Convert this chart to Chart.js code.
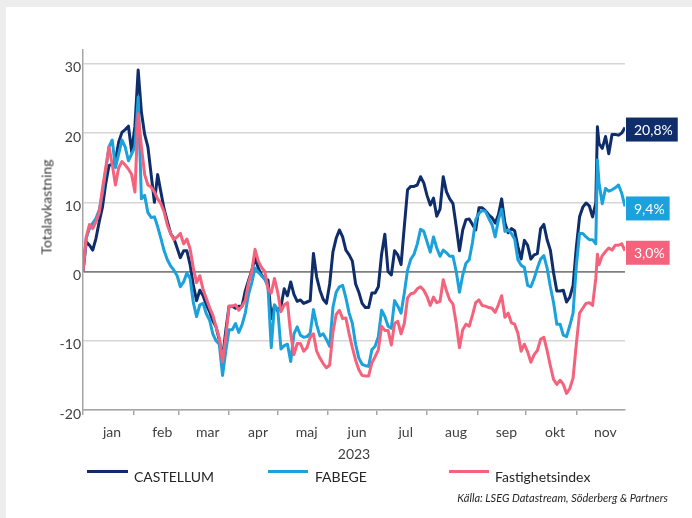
<!DOCTYPE html>
<html>
<head>
<meta charset="utf-8">
<script src="https://cdn.jsdelivr.net/npm/chart.js@4.4.0/dist/chart.umd.min.js"></script>
<style>
  html, body { margin: 0; padding: 0; }
  body { width: 692px; height: 518px; background: #eeeded; position: relative; overflow: hidden; font-family: Lato, sans-serif; }
  #card { position: absolute; left: 6px; top: 7px; right: 0; bottom: 0; background: #fff; }
  #chart { position: absolute; left: 0; top: 0; }
  #ytitle { position: absolute; left: 46px; top: 207px; transform: translate(-50%, -50%) rotate(-90deg); font-size: 14px; color: #404040; white-space: nowrap; }
  .legline { position: absolute; top: 470px; height: 3px; }
  .legtext { position: absolute; top: 469px; font-size: 14px; line-height: 16px; color: #262626; }
  #source { position: absolute; right: 24px; top: 491px; font-size: 11px; line-height: 14px; font-style: italic; color: #262626; }
</style>
</head>
<body>
<div id="card"></div>
<canvas id="chart" width="692" height="518"></canvas>
<div id="ytitle">Totalavkastning</div>
<div class="legline" style="left:87px;width:41px;background:#0f2d6b"></div>
<div class="legtext" style="left:134px">CASTELLUM</div>
<div class="legline" style="left:268px;width:40px;background:#1ba1dc"></div>
<div class="legtext" style="left:315px">FABEGE</div>
<div class="legline" style="left:449px;width:40px;background:#f5627c"></div>
<div class="legtext" style="left:495px">Fastighetsindex</div>
<div id="source">Källa: LSEG Datastream, Söderberg &amp; Partners</div>

<script>
// day of year 2023 (0 = 1 jan)
const days = [
  0, 2, 4, 6, 8, 10, 12, 14, 16, 18,
  20, 22, 24, 26, 28, 30, 32, 34, 36, 38,
  40, 42, 44, 46, 48, 50, 52, 54, 56, 58,
  60, 62, 64, 66, 68, 70, 72, 74, 76, 78,
  80, 82, 84, 86, 88, 90, 92, 94, 96, 98,
  100, 102, 104, 106, 108, 110, 112, 114, 116, 118,
  120, 122, 124, 126, 128, 130, 132, 134, 136, 138,
  140, 142, 144, 146, 148, 150, 152, 154, 156, 158,
  160, 162, 164, 166, 168, 170, 172, 174, 176, 178,
  180, 182, 184, 186, 188, 190, 192, 194, 196, 198,
  200, 202, 204, 206, 208, 210, 212, 214, 216, 218,
  220, 222, 224, 226, 228, 230, 232, 234, 236, 238,
  240, 242, 244, 246, 248, 250, 252, 254, 256, 258,
  260, 262, 264, 266, 268, 270, 272, 274, 276, 278,
  280, 282, 284, 286, 288, 290, 292, 294, 296, 298,
  300, 302, 304, 306, 308, 310, 312, 314, 316, 317, 318,
  320, 322, 324, 326, 328, 330, 332, 334
];

const castellum = [
  0, 4.3, 3.8, 3.1, 4.8, 7.2, 9.3, 12.7, 15.3, 15.5,
  16.0, 18.7, 20.1, 20.5, 21.0, 17.3, 21.0, 29.1, 23.0, 19.8,
  18.0, 14.0, 10.0, 14.0, 11.5, 9.0, 7.2, 5.5, 4.8, 3.4,
  2.0, 3.0, 3.0, 1.0, -2.0, -4.2, -2.7, -3.5, -4.8, -5.8,
  -7.1, -8.0, -9.9, -12.5, -8.5, -5.0, -5.0, -5.3, -5.0, -5.0,
  -2.8, -1.3, 0.1, 2.0, 0.5, -0.5, -1.1, -1.2, -6.8, -4.9,
  -5.7, -5.0, -2.5, -3.5, -1.5, -3.3, -4.3, -4.1, -4.6, -4.4,
  -4.2, 2.6, -0.8, -2.7, -4.0, -4.6, -1.8, 2.8, 4.8, 6.0,
  5.0, 3.1, 2.4, 1.5, -1.8, -3.0, -4.6, -5.2, -5.2, -3.1,
  -3.1, -2.2, 2.5, 5.4, 0.0, -0.5, 3.0, 2.4, 1.0, 6.5,
  11.8, 12.3, 12.3, 12.5, 13.7, 12.8, 11.0, 9.6, 10.6, 8.0,
  9.0, 13.7, 11.5, 10.5, 9.8, 6.5, 3.0, 6.0, 7.5, 7.6,
  6.8, 6.0, 9.2, 9.2, 8.8, 8.2, 7.8, 7.0, 8.2, 10.5,
  7.0, 5.6, 6.2, 5.9, 3.6, 1.8, 4.5, 3.8, 1.8, 2.4,
  2.6, 6.2, 6.8, 4.6, 3.1, -0.2, -2.8, -2.8, -2.7, -4.4,
  -3.7, -2.0, 3.5, 7.9, 9.3, 9.9, 9.5, 7.9, 9.9, 20.9, 18.5,
  17.8, 19.5, 17.0, 19.8, 19.8, 19.7, 20.0, 20.8
];

const fabege = [
  0, 4.8, 6.2, 7.0, 7.7, 8.9, 11.3, 14.6, 18.0, 19.0,
  15.0, 17.0, 19.0, 18.0, 16.0, 17.0, 18.0, 25.2, 10.5, 11.0,
  8.5, 7.8, 7.9, 6.5, 4.8, 3.0, 1.7, 0.8, 0.2, -0.6,
  -2.2, -1.5, -0.2, -1.0, -4.5, -6.5, -4.8, -4.6, -6.1, -7.0,
  -9.0, -10.0, -10.5, -15.0, -11.5, -8.4, -8.4, -7.5, -8.8, -7.7,
  -6.0, -3.3, -1.6, 0.5, -0.1, -0.6, -1.1, -2.2, -11.0, -4.8,
  -5.5, -11.2, -10.7, -10.5, -13.0, -9.0, -8.0, -9.2, -9.5, -9.4,
  -8.9, -5.5, -7.7, -9.3, -9.0, -9.8, -10.8, -5.2, -3.0, -2.2,
  -2.0, -3.8, -6.0, -7.5, -10.5, -12.5, -13.4, -13.6, -13.7, -11.3,
  -10.8, -9.4, -5.6, -6.5, -7.9, -8.2, -4.2, -5.0, -6.0, -3.1,
  0.2, 1.8, 2.5, 4.0, 6.1, 5.8, 4.3, 2.8, 5.0, 3.4,
  2.2, 3.1, 2.7, 2.2, 2.2, 0.0, -3.0, -0.5, 1.2, 1.7,
  4.2, 7.5, 8.4, 8.8, 8.7, 7.7, 6.8, 5.0, 7.5, 9.0,
  5.8, 6.0, 5.5, 4.7, 1.7, 0.9, 0.6, -2.0, -2.2, -1.0,
  0.5, 1.8, 2.3, 0.5, -2.2, -4.5, -7.6, -7.6, -9.2, -9.4,
  -7.8, -6.0, 0.8, 5.5, 5.5, 5.0, 4.6, 4.6, 4.0, 16.1, 12.8,
  9.8, 12.0, 11.6, 11.8, 12.1, 12.5, 11.3, 9.4
];

const fastighetsindex = [
  0, 5.0, 6.8, 6.2, 7.2, 8.5, 12.0, 15.0, 18.0, 15.5,
  12.5, 15.0, 15.9, 15.4, 14.8, 14.0, 11.5, 22.8, 18.0, 14.0,
  12.5, 12.2, 11.5, 10.5, 9.8, 8.6, 6.7, 5.5, 4.6, 5.0,
  5.5, 4.0, 4.7, 3.3, 0.5, -1.6, -0.6, -2.6, -3.9, -5.2,
  -6.3, -8.0, -9.6, -13.0, -9.5, -5.0, -5.0, -4.8, -5.6, -5.0,
  -4.2, -1.6, 0.0, 3.2, 1.5, 0.6, 0.0, -2.5, -3.1, -1.0,
  -3.0, -5.8, -4.8, -4.5, -9.0, -12.0, -10.4, -10.4, -11.5, -11.0,
  -9.5, -9.0, -11.5, -12.5, -13.3, -13.9, -13.5, -8.8, -6.2, -5.6,
  -6.8, -6.7, -9.0, -11.0, -12.8, -14.2, -15.0, -15.1, -15.1, -13.2,
  -12.3, -11.3, -7.9, -8.5, -8.5, -10.6, -7.5, -7.2, -9.0, -7.5,
  -3.8, -3.2, -3.1, -2.5, -2.2, -2.7, -3.6, -4.9, -3.7, -4.5,
  -4.3, -1.2, -2.8, -4.1, -4.7, -7.5, -11.0, -8.4, -7.6, -7.9,
  -6.3, -4.5, -4.1, -4.9, -5.0, -5.2, -5.3, -5.9, -4.8, -3.5,
  -6.6, -6.0, -7.4, -7.6, -8.9, -11.5, -10.5, -11.6, -13.1, -12.0,
  -11.4, -9.8, -9.5, -11.4, -13.6, -15.6, -16.3, -15.7, -16.3, -17.6,
  -16.9, -15.4, -10.5, -6.0, -5.3, -4.6, -4.5, -4.9, -1.0, 2.5, 1.0,
  2.3, 2.9, 3.4, 3.1, 3.8, 3.8, 4.0, 3.0
];

// month starts (day of year) and their labels
const monthStarts = [0, 31, 59, 90, 120, 151, 181, 212, 243, 273, 304];
const monthNames = ['jan', 'feb', 'mar', 'apr', 'maj', 'jun', 'jul', 'aug', 'sep', 'okt', 'nov'];
const yTicks = [-20, -10, 0, 10, 20, 30];

const colors = ['#0f2d6b', '#1ba1dc', '#f5627c'];

function toPoints(values) {
  return days.map((d, i) => ({ x: d, y: values[i] }));
}

// boxes with the last value at the right end of each line
const endLabels = {
  id: 'endLabels',
  afterDatasetsDraw(chart) {
    const { ctx, chartArea } = chart;
    ctx.save();
    ctx.font = '14px Lato';
    ctx.textBaseline = 'middle';
    chart.data.datasets.forEach((ds, i) => {
      const meta = chart.getDatasetMeta(i);
      const last = meta.data[meta.data.length - 1];
      const val = ds.data[ds.data.length - 1].y;
      const txt = val.toFixed(1).replace('.', ',') + '%';
      const w = ctx.measureText(txt).width + 13;
      const x = chartArea.right + 1;
      const cy = last.y + 2;
      ctx.fillStyle = ds.borderColor;
      ctx.fillRect(x, cy - 12, w, 24);
      ctx.fillStyle = '#ffffff';
      ctx.fillText(txt, x + 8, cy + 1);
    });
    ctx.restore();
  }
};

const ctx = document.getElementById('chart').getContext('2d');

new Chart(ctx, {
  type: 'line',
  data: {
    datasets: [
      { label: 'CASTELLUM', data: toPoints(castellum), borderColor: colors[0], order: 3 },
      { label: 'FABEGE', data: toPoints(fabege), borderColor: colors[1], order: 2 },
      { label: 'Fastighetsindex', data: toPoints(fastighetsindex), borderColor: colors[2], order: 1 }
    ]
  },
  options: {
    responsive: false,
    animation: false,
    elements: {
      line: { borderWidth: 3, tension: 0, borderJoinStyle: 'round', fill: false },
      point: { radius: 0 }
    },
    layout: { padding: { top: 50, right: 67, bottom: 50, left: 0 } },
    plugins: {
      legend: { display: false },
      tooltip: { enabled: false }
    },
    scales: {
      x: {
        type: 'linear',
        min: 0,
        max: 334,
        afterBuildTicks: s => { s.ticks = monthStarts.map(v => ({ value: v })); },
        afterFit: s => { s.height = 58; },
        grid: { drawOnChartArea: false, drawTicks: true, tickLength: 5, color: '#a6a6a6', lineWidth: 1.5 },
        border: { color: '#a6a6a6', width: 1.5 },
        ticks: {
          autoSkip: false,
          maxRotation: 0,
          labelOffset: 29,
          padding: 9,
          color: '#404040',
          font: { family: 'Lato', size: 14 },
          callback: v => monthNames[monthStarts.indexOf(v)]
        },
        title: {
          display: true,
          text: '2023',
          color: '#404040',
          font: { family: 'Lato', size: 14 },
          padding: { top: 0, bottom: 5 }
        }
      },
      y: {
        min: -20,
        max: 32,
        afterBuildTicks: s => { s.ticks = yTicks.map(v => ({ value: v })); },
        afterFit: s => { s.width = 83; },
        grid: {
          drawTicks: false,
          color: c => (c.tick && c.tick.value === 0) ? '#7f7f7f' : '#d6d6d6',
          lineWidth: c => (c.tick && c.tick.value === 0) ? 1.8 : 1.5
        },
        border: { color: '#a6a6a6', width: 1.5 },
        ticks: {
          padding: 2,
          labelOffset: 4,
          color: '#404040',
          font: { family: 'Lato', size: 14 }
        }
      }
    }
  },
  plugins: [endLabels]
});
</script>
</body>
</html>
